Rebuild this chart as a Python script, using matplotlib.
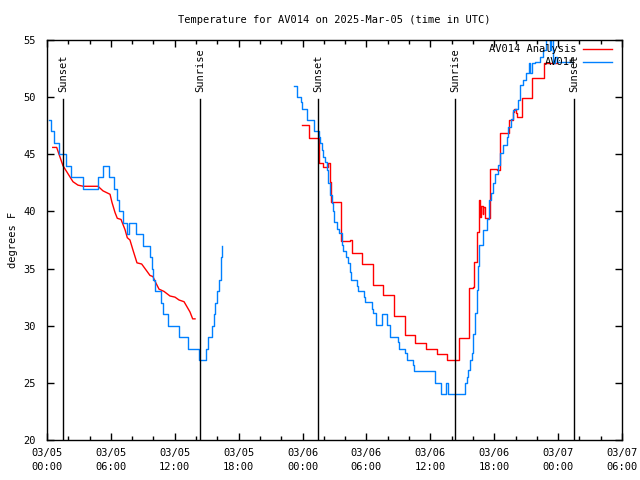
import matplotlib
matplotlib.use('Agg')
import matplotlib.pyplot as plt

# hours since 03/05 00:00 UTC
obs1_hours = [0.2, 0.4, 0.7, 1.13, 1.81, 2.25, 3.38, 4.79, 5.26, 5.82, 6.29, 6.55,
              6.76, 7.11, 7.54, 7.73, 8.36, 9.06, 9.63, 9.84, 10.0, 10.14, 10.71,
              10.94, 11.36, 12.44, 13.24, 14.27, 14.65, 14.93, 15.12, 15.5, 15.68,
              15.82, 15.97, 16.2, 16.3, 16.37, 16.43]
obs1_temps = [48, 47, 46, 45, 44, 43, 42, 43, 44, 43, 42, 41,
              40, 39, 38, 39, 38, 37, 36, 35, 34, 33, 32,
              31, 30, 29, 28, 27, 27, 28, 29, 30, 31,
              32, 33, 34, 35, 36, 37]

obs2_hours = [23.2, 23.45, 23.82, 23.95, 24.39, 25.10, 25.54, 25.64, 25.80, 25.95,
              26.11, 26.27, 26.42, 26.58, 26.74, 26.83, 26.98, 27.21, 27.39, 27.68,
              27.83, 28.05, 28.30, 28.46, 28.52, 29.09, 29.24, 29.77, 29.86, 30.49,
              30.64, 30.90, 31.49, 31.90, 32.21, 32.99, 33.08, 33.62, 33.78, 34.40,
              34.49, 36.44, 36.97, 37.44, 37.69, 39.26, 39.42, 39.57, 39.73, 39.89,
              40.04, 40.2, 40.36, 40.51, 40.6, 40.97, 41.29, 41.51, 41.67, 41.86,
              42.07, 42.38, 42.54, 42.85, 43.17, 43.32, 43.55, 43.74, 43.95, 44.26,
              44.42, 44.73, 44.98, 45.29, 45.36, 45.52, 45.83, 46.30, 46.61, 46.86,
              47.24, 47.33, 47.55, 47.71, 47.87, 49.3]
obs2_temps = [51, 50, 49.6, 49, 48, 47, 46.5, 46, 45.4, 44.8,
              44.3, 43.6, 42.5, 41.4, 40.7, 40.0, 39.1, 38.5, 38.1, 37.1,
              36.5, 36.0, 35.5, 34.7, 34.0, 33.5, 33.0, 32.5, 32.1, 31.5,
              31.1, 30.1, 31.0, 30.1, 29.0, 28.6, 28.0, 27.6, 27.0, 26.6,
              26.0, 25.0, 24.0, 25.0, 24.0, 25.0, 25.5, 26.1, 27.0, 27.6,
              29.3, 31.1, 33.1, 35.2, 37.1, 38.4, 39.3, 41.0, 41.6, 42.5,
              43.3, 44.1, 45.1, 45.8, 46.5, 47.4, 48.1, 48.9, 49.0, 49.75,
              51.1, 51.5, 52.1, 53.0, 52.1, 53.0, 53.1, 53.5, 54.1, 55.5,
              54.1, 55.5, 53.0, 53.5, 53.1, 53.1]

ana1_hours = [0.54, 0.91, 1.13, 1.50, 1.97, 2.44, 2.91, 3.41, 4.79, 5.26, 5.92,
              6.10, 6.39, 6.60, 6.95, 7.33, 7.54, 7.79, 8.08, 8.45, 8.89, 9.36,
              9.67, 9.95, 10.14, 10.52, 10.99, 11.55, 12.02, 12.40, 12.87, 13.12,
              13.43, 13.68, 13.90]
ana1_temps = [45.6, 45.6, 45.0, 44.0, 43.3, 42.6, 42.3, 42.2, 42.2, 41.8, 41.5,
              40.8, 39.9, 39.4, 39.3, 38.4, 37.7, 37.5, 36.6, 35.5, 35.4, 34.8,
              34.4, 34.3, 33.9, 33.2, 33.0, 32.6, 32.5, 32.25, 32.1, 31.7,
              31.2, 30.6, 30.6]

ana2_hours = [23.95, 24.63, 25.54, 25.57, 25.89, 26.42, 26.58, 26.64, 27.61, 28.46,
              28.62, 29.61, 30.64, 31.58, 32.62, 33.59, 34.59, 35.59, 36.6, 37.59,
              38.72, 39.66, 39.98, 40.10, 40.41, 40.6, 40.7, 40.8, 40.9, 40.97,
              41.13, 41.6, 42.29, 42.54, 43.39, 43.74, 43.86, 44.05, 44.17, 44.64,
              45.58, 46.7, 47.87]
ana2_temps = [47.6, 46.4, 45.2, 44.2, 43.9, 44.2, 42.6, 40.85, 37.4, 37.5,
              36.4, 35.4, 33.6, 32.7, 30.85, 29.2, 28.5, 28.0, 27.5, 27.0,
              28.95, 33.3, 33.4, 35.6, 38.2, 41.0, 39.5, 40.5, 39.8, 40.4,
              39.4, 43.7, 43.6, 46.9, 48.0, 48.7, 49.0, 48.6, 48.3, 49.9,
              51.65, 52.95, 52.95]

sun_hours = [1.53, 14.40, 25.48, 38.32, 49.52]
sun_labels = ['Sunset', 'Sunrise', 'Sunset', 'Sunrise', 'Sunset']

tick_hours = [0, 6, 12, 18, 24, 30, 36, 42, 48, 54]
tick_labels = ['03/05\n00:00', '03/05\n06:00', '03/05\n12:00', '03/05\n18:00',
               '03/06\n00:00', '03/06\n06:00', '03/06\n12:00', '03/06\n18:00',
               '03/07\n00:00', '03/07\n06:00']

red = '#ff0000'
blue = '#0080ff'
mono = 'DejaVu Sans Mono'
fs = 7.5

plt.rcParams['font.family'] = mono
plt.rcParams['font.size'] = fs

fig = plt.figure(figsize=(6.4, 4.8), dpi=100)
ax = fig.add_axes([47 / 640, 40 / 480, 575 / 640, 400 / 480])

ax.plot(ana1_hours, ana1_temps, color=red, lw=1)
ax.plot(ana2_hours, ana2_temps, color=red, lw=1, drawstyle='steps-post', label='AV014 Analysis')
ax.plot(obs1_hours, obs1_temps, color=blue, lw=1, drawstyle='steps-post')
ax.plot(obs2_hours, obs2_temps, color=blue, lw=1, drawstyle='steps-post', label='AV014')

for h, lab in zip(sun_hours, sun_labels):
    ax.plot([h, h], [20, 49.8], color='black', lw=1)
    ax.text(h, 50.45, lab, rotation=90, ha='center', va='bottom', fontsize=fs)

ax.set_xlim(0, 54)
ax.set_ylim(20, 55)
ax.set_xticks(tick_hours)
ax.set_xticklabels(tick_labels, linespacing=1.5)
ax.set_xticks(range(0, 55, 2), minor=True)
ax.set_yticks(range(20, 56, 5))
ax.tick_params(which='both', direction='in', top=True, right=True, width=1)
ax.tick_params(which='major', length=5)
ax.tick_params(which='minor', length=3)
ax.tick_params(axis='y', pad=8)
ax.tick_params(axis='x', pad=6)
for s in ax.spines.values():
    s.set_linewidth(1)

ax.set_title('Temperature for AV014 on 2025-Mar-05 (time in UTC)', fontsize=fs, pad=12)
ax.set_ylabel('degrees F', fontsize=fs, labelpad=4)

# legend sits in the top right corner without a frame, text left of the sample line
leg = ax.legend(loc='upper right', bbox_to_anchor=(0.9896, 1.0), frameon=False,
                markerfirst=False, handlelength=2.8, borderaxespad=0,
                handletextpad=0.6, labelspacing=0.3, fontsize=fs)

plt.savefig('out.png', dpi=100)
